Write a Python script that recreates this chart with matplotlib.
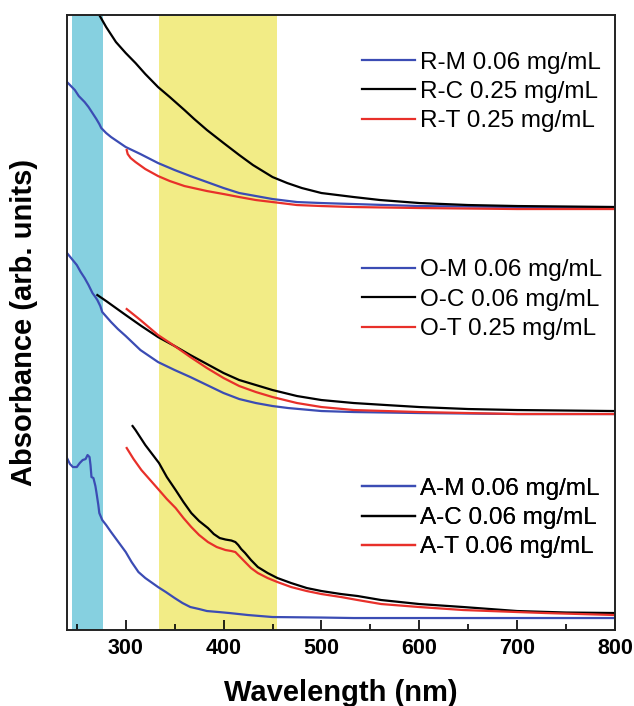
import matplotlib
matplotlib.use("Agg")
import matplotlib.pyplot as plt
from matplotlib.ticker import MultipleLocator

plt.rcParams['font.family'] = ['Liberation Sans', 'DejaVu Sans']

# wavelength (nm) / absorbance (arb. units, stacked)
rm_wl = [240, 244, 248, 252, 255, 258, 262, 266, 270, 273, 275, 280, 285, 300, 315, 333, 350, 366, 383, 400, 416, 433, 450, 475, 500, 533, 566, 600, 700, 800]
rm_ab = [5.48, 5.44, 5.40, 5.34, 5.31, 5.28, 5.23, 5.17, 5.11, 5.06, 5.02, 4.97, 4.93, 4.83, 4.76, 4.67, 4.60, 4.54, 4.48, 4.42, 4.37, 4.34, 4.31, 4.28, 4.27, 4.26, 4.25, 4.24, 4.23, 4.23]
rc_wl = [262, 268, 273, 280, 290, 300, 310, 320, 333, 345, 360, 370, 383, 400, 416, 430, 450, 465, 480, 500, 533, 560, 600, 650, 700, 750, 800]
rc_ab = [6.55, 6.30, 6.15, 6.03, 5.88, 5.77, 5.67, 5.56, 5.43, 5.33, 5.20, 5.11, 5.00, 4.87, 4.75, 4.65, 4.53, 4.47, 4.42, 4.37, 4.33, 4.30, 4.27, 4.25, 4.24, 4.235, 4.23]
rt_wl = [301, 302, 305, 310, 320, 333, 345, 360, 383, 400, 416, 433, 450, 475, 500, 533, 600, 700, 800]
rt_ab = [4.80, 4.76, 4.72, 4.68, 4.61, 4.54, 4.49, 4.44, 4.39, 4.36, 4.33, 4.30, 4.28, 4.25, 4.24, 4.23, 4.22, 4.21, 4.21]

om_wl = [240, 245, 250, 254, 258, 262, 266, 269, 271, 274, 276, 285, 292, 300, 315, 333, 350, 366, 383, 400, 416, 433, 450, 466, 500, 533, 600, 700, 800]
om_ab = [3.77, 3.71, 3.65, 3.58, 3.52, 3.45, 3.37, 3.33, 3.30, 3.24, 3.18, 3.08, 3.01, 2.94, 2.80, 2.68, 2.60, 2.53, 2.45, 2.37, 2.31, 2.27, 2.24, 2.22, 2.19, 2.18, 2.17, 2.16, 2.16]
oc_wl = [271, 280, 290, 300, 316, 333, 350, 366, 383, 400, 416, 433, 450, 475, 500, 533, 566, 600, 650, 700, 800]
oc_ab = [3.35, 3.29, 3.22, 3.15, 3.04, 2.93, 2.84, 2.75, 2.66, 2.57, 2.50, 2.45, 2.40, 2.34, 2.30, 2.27, 2.25, 2.23, 2.21, 2.20, 2.19]
ot_wl = [301, 315, 333, 350, 366, 383, 400, 416, 433, 450, 475, 500, 533, 566, 600, 700, 800]
ot_ab = [3.21, 3.10, 2.95, 2.84, 2.73, 2.62, 2.52, 2.44, 2.38, 2.33, 2.27, 2.23, 2.20, 2.19, 2.18, 2.16, 2.16]

am_wl = [240, 243, 246, 250, 253, 256, 259, 261, 263, 264, 265, 267, 269, 270, 272, 273, 276, 280, 285, 291, 300, 306, 313, 320, 333, 341, 350, 358, 366, 375, 383, 395, 406, 425, 450, 500, 533, 600, 700, 800]
am_ab = [1.72, 1.66, 1.63, 1.63, 1.67, 1.70, 1.71, 1.75, 1.73, 1.65, 1.53, 1.52, 1.44, 1.38, 1.25, 1.17, 1.10, 1.05, 0.98, 0.90, 0.78, 0.68, 0.58, 0.52, 0.43, 0.38, 0.32, 0.27, 0.23, 0.21, 0.19, 0.18, 0.17, 0.15, 0.13, 0.125, 0.12, 0.12, 0.12, 0.12]
ac_wl = [307, 310, 320, 334, 342, 351, 359, 367, 375, 384, 390, 396, 402, 408, 412, 415, 418, 422, 428, 435, 445, 455, 469, 485, 500, 520, 537, 561, 600, 645, 700, 750, 800]
ac_ab = [2.04, 2.00, 1.85, 1.67, 1.53, 1.40, 1.28, 1.17, 1.09, 1.02, 0.96, 0.92, 0.905, 0.895, 0.88, 0.85, 0.81, 0.77, 0.70, 0.63, 0.57, 0.52, 0.47, 0.42, 0.39, 0.36, 0.34, 0.30, 0.26, 0.23, 0.19, 0.175, 0.17]
at_wl = [301, 308, 316, 325, 334, 342, 351, 359, 367, 375, 384, 393, 402, 408, 412, 415, 418, 422, 428, 435, 445, 455, 469, 485, 500, 520, 537, 561, 600, 645, 700, 729, 800]
at_ab = [1.82, 1.71, 1.60, 1.50, 1.40, 1.31, 1.22, 1.12, 1.03, 0.95, 0.88, 0.83, 0.80, 0.79, 0.78, 0.75, 0.72, 0.68, 0.62, 0.57, 0.52, 0.48, 0.43, 0.39, 0.36, 0.33, 0.30, 0.26, 0.23, 0.20, 0.18, 0.17, 0.15]

blue = '#3b4cb4'
red = '#e8302a'

fig = plt.figure(figsize=(6.34, 7.06), dpi=100)
ax = fig.add_axes([0.1057, 0.1076, 0.8644, 0.8711])

# highlighted wavelength windows
ax.axvspan(245, 276.5, color='#86d0e0', lw=0, zorder=0)
ax.axvspan(334, 455, color='#f2ec86', lw=0, zorder=0)

groups = [
    [(rm_wl, rm_ab, blue, 'R-M 0.06 mg/mL'), (rc_wl, rc_ab, 'black', 'R-C 0.25 mg/mL'), (rt_wl, rt_ab, red, 'R-T 0.25 mg/mL')],
    [(om_wl, om_ab, blue, 'O-M 0.06 mg/mL'), (oc_wl, oc_ab, 'black', 'O-C 0.06 mg/mL'), (ot_wl, ot_ab, red, 'O-T 0.25 mg/mL')],
    [(am_wl, am_ab, blue, 'A-M 0.06 mg/mL'), (ac_wl, ac_ab, 'black', 'A-C 0.06 mg/mL'), (at_wl, at_ab, red, 'A-T 0.06 mg/mL')],
]
legend_y = [0.875, 0.537, 0.182]

for grp, ly in zip(groups, legend_y):
    handles = []
    for wl, ab, c, lab in grp:
        h, = ax.plot(wl, ab, color=c, lw=1.6, label=lab)
        handles.append(h)
    leg = ax.legend(handles=handles, loc='center left', bbox_to_anchor=(0.538, ly),
                    frameon=False, fontsize=17.5, handlelength=2.2, handletextpad=0.2,
                    labelspacing=0.3, borderpad=0, borderaxespad=0)
    ax.add_artist(leg)

ax.set_xlim(240, 800)
ax.set_ylim(0, 6.15)
ax.set_yticks([])
ax.xaxis.set_major_locator(MultipleLocator(100))
ax.xaxis.set_minor_locator(MultipleLocator(50))
ax.tick_params(axis='x', which='both', direction='in', top=False, labelsize=15.5, pad=6, width=1.2)
ax.tick_params(axis='x', which='major', length=7)
ax.tick_params(axis='x', which='minor', length=4)
for lab in ax.get_xticklabels():
    lab.set_fontweight('bold')
for s in ax.spines.values():
    s.set_linewidth(1.4)
    s.set_color('#222222')

ax.set_xlabel('Wavelength (nm)', fontsize=21, fontweight='bold', labelpad=14)
ax.set_ylabel('Absorbance (arb. units)', fontsize=21, fontweight='bold', labelpad=21)

fig.savefig('out.png', dpi=100)
